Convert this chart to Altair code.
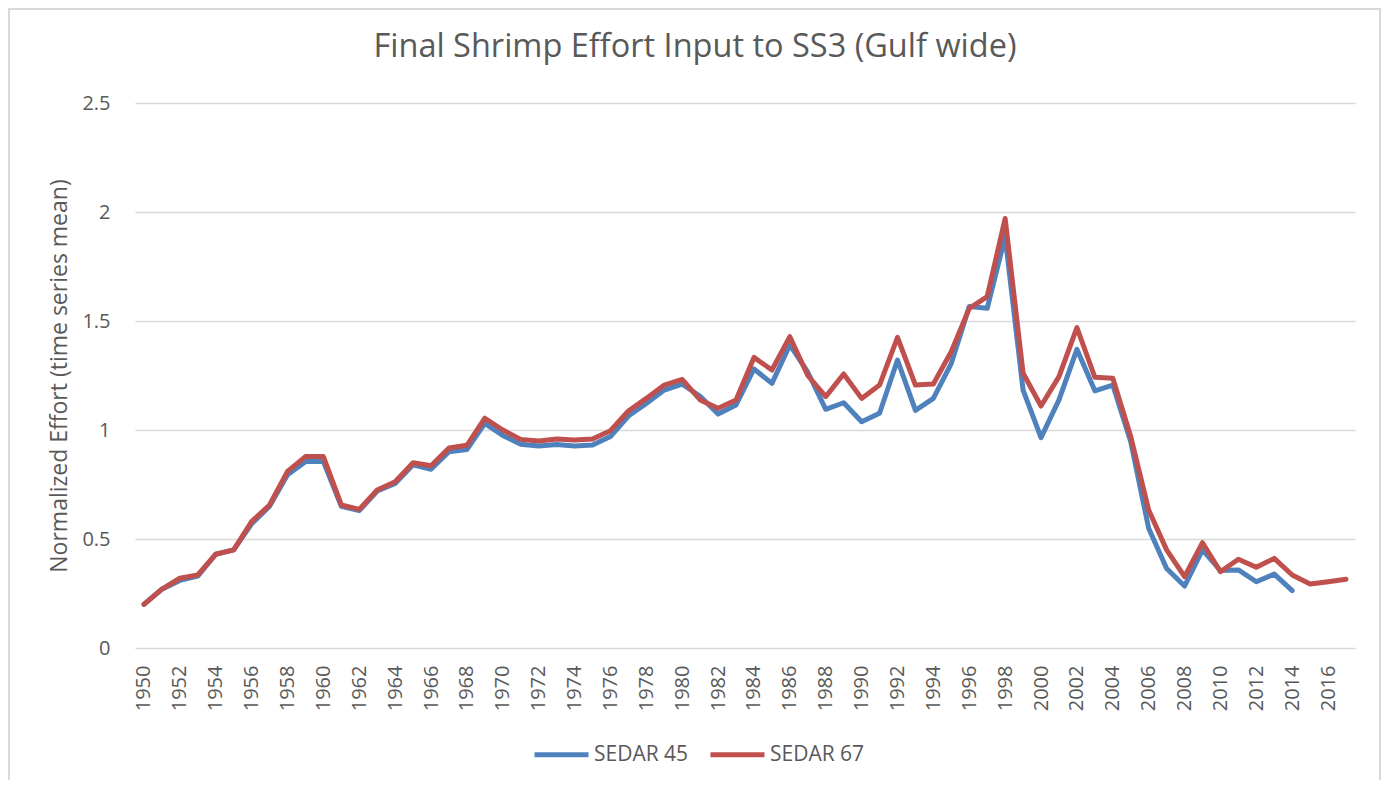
import altair as alt
import pandas as pd

years = list(range(1950, 2018))

sedar45 = [0.20, 0.27, 0.31, 0.33, 0.43, 0.45, 0.57, 0.65, 0.795, 0.855,
           0.855, 0.65, 0.63, 0.72, 0.755, 0.84, 0.82, 0.90, 0.91, 1.03,
           0.975, 0.935, 0.927, 0.934, 0.927, 0.931, 0.97, 1.064, 1.122, 1.183,
           1.21, 1.155, 1.073, 1.115, 1.28, 1.214, 1.39, 1.265, 1.095, 1.125,
           1.038, 1.077, 1.321, 1.09, 1.145, 1.306, 1.566, 1.558, 1.887, 1.183,
           0.965, 1.138, 1.37, 1.18, 1.206, 0.946, 0.549, 0.365, 0.284, 0.45,
           0.355, 0.358, 0.304, 0.339, 0.263]

sedar67 = [0.20, 0.27, 0.32, 0.335, 0.43, 0.45, 0.58, 0.656, 0.81, 0.878,
           0.878, 0.656, 0.636, 0.725, 0.763, 0.85, 0.836, 0.917, 0.93, 1.054,
           1.0, 0.957, 0.95, 0.959, 0.954, 0.959, 0.997, 1.087, 1.145, 1.206,
           1.232, 1.138, 1.10, 1.138, 1.333, 1.275, 1.428, 1.25, 1.153, 1.257,
           1.145, 1.206, 1.425, 1.206, 1.211, 1.36, 1.558, 1.612, 1.97, 1.26,
           1.11, 1.245, 1.47, 1.242, 1.237, 0.97, 0.633, 0.45, 0.327, 0.483,
           0.35, 0.407, 0.37, 0.411, 0.335, 0.294, 0.304, 0.315]

series_names = ["SEDAR 45", "SEDAR 67"]
series_colors = ["#4F81BD", "#C0504D"]
tick_years = [y for y in years if y % 2 == 0]
chart_title = "Final Shrimp Effort Input to SS3 (Gulf wide)"

rows = []
for y, v in zip(years, sedar45):
    rows.append({"Year": y, "Effort": v, "Series": series_names[0]})
for y, v in zip(years, sedar67):
    rows.append({"Year": y, "Effort": v, "Series": series_names[1]})
df = pd.DataFrame(rows)

FONT = "Open Sans"
GREY = "#595959"

lines = alt.Chart(df).mark_line(strokeWidth=5, strokeJoin="round", strokeCap="round").encode(
    x=alt.X("Year:O", scale=alt.Scale(type="point", padding=0.5),
            axis=alt.Axis(values=tick_years, labelAngle=270, labelAlign="right",
                          labelBaseline="middle", labelPadding=17, title=None,
                          domain=False, ticks=False, grid=False,
                          labelFont=FONT, labelFontSize=20, labelColor=GREY)),
    y=alt.Y("Effort:Q", scale=alt.Scale(domain=[0, 2.5], nice=False),
            axis=alt.Axis(values=[0, 0.5, 1, 1.5, 2, 2.5], format="~g",
                          title="Normalized Effort (time series mean)",
                          titleFont=FONT, titleFontSize=23, titleFontWeight="normal",
                          titleColor=GREY, titlePadding=10,
                          labelFont=FONT, labelFontSize=20, labelColor=GREY,
                          labelPadding=25, domain=False, ticks=False,
                          grid=True, gridColor="#D9D9D9", gridWidth=1.5)),
    color=alt.Color("Series:N",
                    scale=alt.Scale(domain=series_names, range=series_colors),
                    legend=alt.Legend(orient="none", direction="horizontal",
                                      legendX=397, legendY=622, title=None,
                                      symbolType="stroke", symbolSize=2916,
                                      symbolStrokeWidth=5, labelFont=FONT,
                                      labelFontSize=21, labelColor=GREY,
                                      labelOffset=3, columnPadding=11)),
)

frame_df = pd.DataFrame({"label": [chart_title]})
frame = alt.Chart(frame_df).mark_rect(filled=False, stroke="#D9D9D9", strokeWidth=2).encode(
    x=alt.value(-126), x2=alt.value(1245), y=alt.value(-94), y2=alt.value(720)
)
title_text = alt.Chart(frame_df).mark_text(
    font=FONT, fontSize=32.5, color=GREY, align="center", baseline="alphabetic"
).encode(text="label:N", x=alt.value(560), y=alt.value(-46))

chart = alt.layer(frame, title_text, lines).properties(
    width=1220,
    height=545,
    autosize=alt.AutoSizeParams(type="none"),
    padding={"left": 127, "top": 95, "right": 26, "bottom": 132},
).configure_view(strokeWidth=0)

chart.save("out.html", embed_options={"renderer": "svg", "actions": False})
